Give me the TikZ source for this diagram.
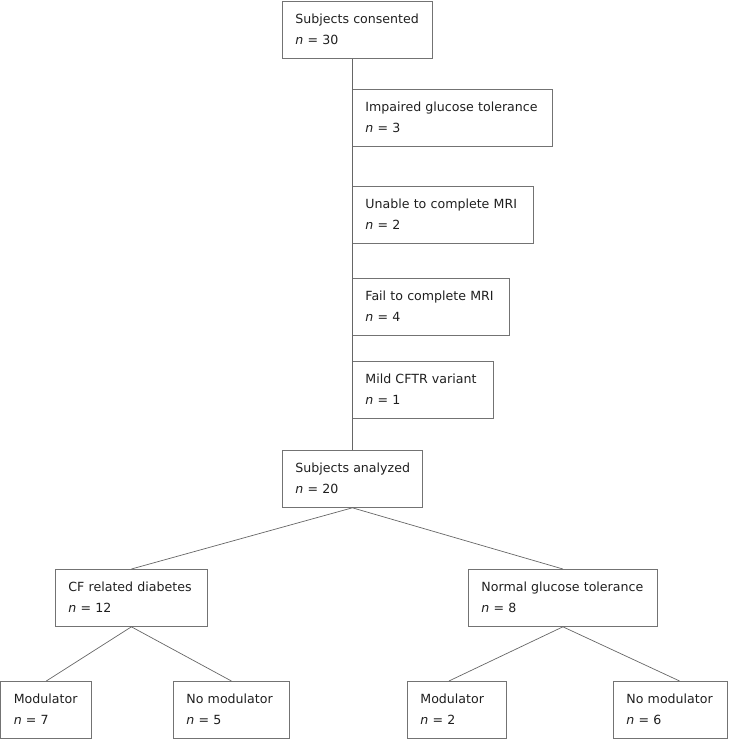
\documentclass[tikz,border=0pt]{standalone}
\usepackage{fontspec}
\setmainfont{DejaVu Sans}
\usetikzlibrary{calc}
\newcommand{\bxtext}[2]{\begin{tabular}{@{}l@{}}#1\\\textit{n} = #2\end{tabular}}
\tikzset{
  box/.style={draw=black!55, line width=0.8pt, anchor=north west, minimum height=57pt,
    inner xsep=13pt, inner ysep=0pt, align=left, text=black!88},
  link/.style={draw=black!60, line width=0.7pt}
}
\begin{document}
\begin{tikzpicture}[x=1pt, y=-1pt, font=\fontsize{12.6}{21}\selectfont]
\useasboundingbox (0,0) rectangle (737,739);
\node[box, text width=124pt] (A) at (282,1) {\bxtext{Subjects consented}{30}};
\node[box, text width=174pt] (B) at (352,89) {\bxtext{Impaired glucose tolerance}{3}};
\node[box, text width=155pt] (C) at (352,186) {\bxtext{Unable to complete MRI}{2}};
\node[box, text width=131pt] (D) at (352,278) {\bxtext{Fail to complete MRI}{4}};
\node[box, text width=115pt] (E) at (352,361) {\bxtext{Mild CFTR variant}{1}};
\node[box, text width=114pt] (F) at (282,450) {\bxtext{Subjects analyzed}{20}};
\node[box, text width=126pt] (G) at (55,569) {\bxtext{CF related diabetes}{12}};
\node[box, text width=163pt] (H) at (468,569) {\bxtext{Normal glucose tolerance}{8}};
\node[box, text width=65pt] (I) at (0.4,681) {\bxtext{Modulator}{7}};
\node[box, text width=90pt] (J) at (173,681) {\bxtext{No modulator}{5}};
\node[box, text width=73pt] (K) at (407,681) {\bxtext{Modulator}{2}};
\node[box, text width=88pt] (L) at (613,681) {\bxtext{No modulator}{6}};
% trunk
\draw[link] (F.north) -- (F.north |- A.south);
% branches
\draw[link] (F.south) -- (G.north);
\draw[link] (F.south) -- (H.north);
\draw[link] (G.south) -- (I.north);
\draw[link] (G.south) -- (J.north);
\draw[link] (H.south) -- ($(K.north west)!0.42!(K.north east)$);
\draw[link] (H.south) -- ($(L.north west)!0.58!(L.north east)$);
\end{tikzpicture}
\end{document}
